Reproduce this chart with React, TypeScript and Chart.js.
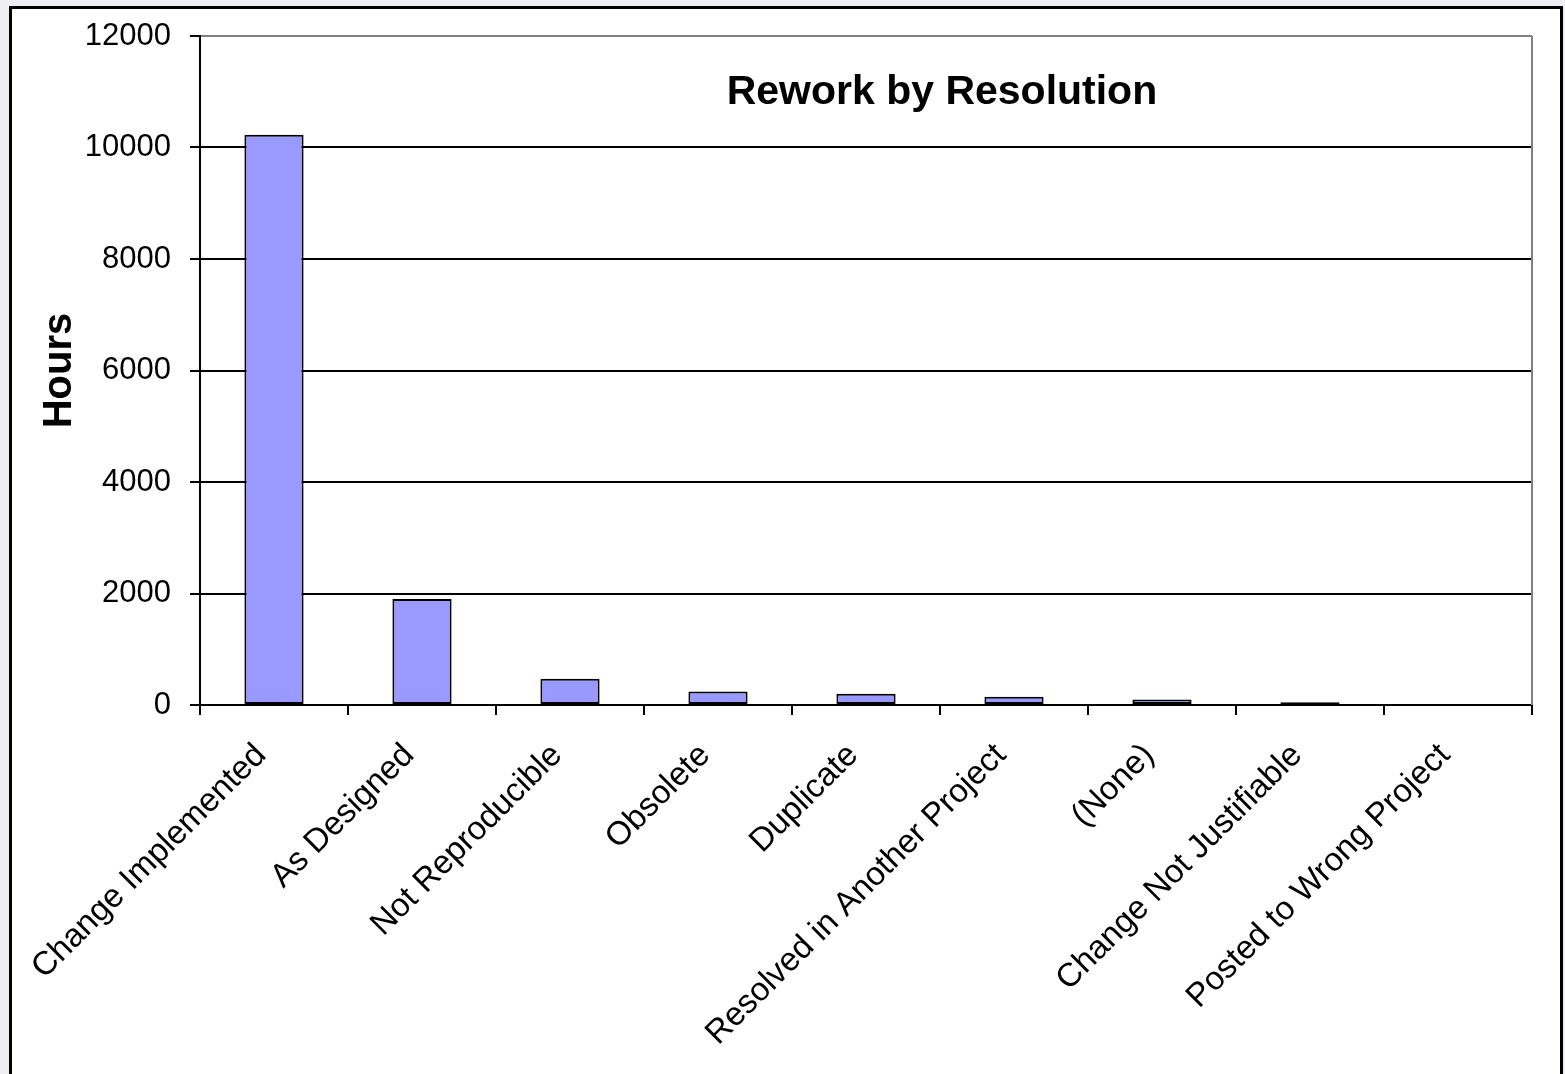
import React, { useEffect, useRef } from 'react';
import { Chart, registerables } from 'chart.js';

Chart.register(...registerables);

const categories = [
  'Change Implemented',
  'As Designed',
  'Not Reproducible',
  'Obsolete',
  'Duplicate',
  'Resolved in Another Project',
  '(None)',
  'Change Not Justifiable',
  'Posted to Wrong Project',
];
const hours = [10230, 1900, 470, 240, 200, 150, 100, 50, 0];
const yMin = 0;
const yMax = 12000;
const yStep = 2000;
const chartTitle = 'Rework by Resolution';
const yAxisTitle = 'Hours';

const FONT = '"Liberation Sans", Arial, sans-serif';
const CANVAS_W = 1548;
const CANVAS_H = 1065;

const innerTitle = {
  id: 'innerTitle',
  beforeDatasetsDraw(chart: any) {
    const { ctx, chartArea } = chart;
    ctx.save();
    ctx.strokeStyle = '#808080';
    ctx.lineWidth = 2;
    ctx.beginPath();
    ctx.moveTo(chartArea.right, chartArea.top);
    ctx.lineTo(chartArea.right, chartArea.bottom);
    ctx.stroke();
    ctx.restore();
  },
  afterDraw(chart: any) {
    const { ctx, chartArea } = chart;
    ctx.save();
    ctx.font = `bold 41px ${FONT}`;
    ctx.fillStyle = '#000';
    ctx.textAlign = 'center';
    ctx.textBaseline = 'middle';
    const x = chartArea.left + (chartArea.right - chartArea.left) * 0.557;
    const y = chartArea.top + (chartArea.bottom - chartArea.top) * 0.085;
    ctx.fillText(chartTitle, x, y);
    ctx.restore();
  },
};

export default function App() {
  const ref = useRef<HTMLCanvasElement | null>(null);

  useEffect(() => {
    const canvas = ref.current;
    if (!canvas) return;
    const chart = new Chart(canvas, {
      type: 'bar',
      data: {
        labels: categories,
        datasets: [
          {
            data: hours,
            backgroundColor: '#9999ff',
            borderColor: '#000000',
            borderWidth: 2,
            borderSkipped: false,
            barPercentage: 0.4,
            categoryPercentage: 1,
          },
        ],
      },
      options: {
        animation: false,
        responsive: false,
        devicePixelRatio: 1,
        layout: { padding: { left: 0, top: 27, right: 28, bottom: 0 } },
        plugins: {
          legend: { display: false },
          tooltip: { enabled: false },
          title: { display: false },
        },
        scales: {
          x: {
            afterFit(scale: any) {
              scale.height = CANVAS_H - 27 - 669;
              scale.paddingLeft = 0;
              scale.paddingRight = 0;
            },
            grid: {
              display: true,
              drawOnChartArea: false,
              drawTicks: true,
              tickLength: 10,
              color: '#000',
              lineWidth: 2,
              offset: true,
            },
            border: { display: true, color: '#000', width: 2 },
            ticks: {
              autoSkip: false,
              maxRotation: 45,
              minRotation: 45,
              padding: 21,
              labelOffset: -13,
              color: '#000',
              font: { family: FONT, size: 33 },
            },
          },
          y: {
            min: yMin,
            max: yMax,
            afterFit(scale: any) {
              scale.width = 188;
              scale.paddingTop = 0;
              scale.paddingBottom = 0;
            },
            grid: {
              color: (c: any) => (c.tick && c.tick.value === yMax ? '#808080' : '#000'),
              tickColor: '#000',
              lineWidth: 2,
              drawTicks: true,
              tickLength: 10,
            },
            border: { display: true, color: '#000', width: 2 },
            ticks: {
              stepSize: yStep,
              padding: 19,
              color: '#000',
              font: { family: FONT, size: 31 },
              callback: (v: any) => String(v),
            },
            title: {
              display: true,
              text: yAxisTitle,
              color: '#000',
              font: { family: FONT, size: 40, weight: 'bold' },
              padding: { top: 24, bottom: 0 },
            },
          },
        },
      },
      plugins: [innerTitle],
    });
    return () => chart.destroy();
  }, []);

  return (
    <div
      style={{
        position: 'fixed',
        left: 0,
        top: 0,
        width: 1565,
        height: 1074,
        background: '#efeef2',
        overflow: 'hidden',
      }}
    >
      <div
        style={{
          position: 'absolute',
          left: 9,
          top: 6,
          width: CANVAS_W,
          height: CANVAS_H + 20,
          border: '3px solid #000',
          background: '#fff',
        }}
      >
        <canvas
          ref={ref}
          width={CANVAS_W}
          height={CANVAS_H}
          style={{ display: 'block', width: CANVAS_W, height: CANVAS_H }}
        />
      </div>
    </div>
  );
}
